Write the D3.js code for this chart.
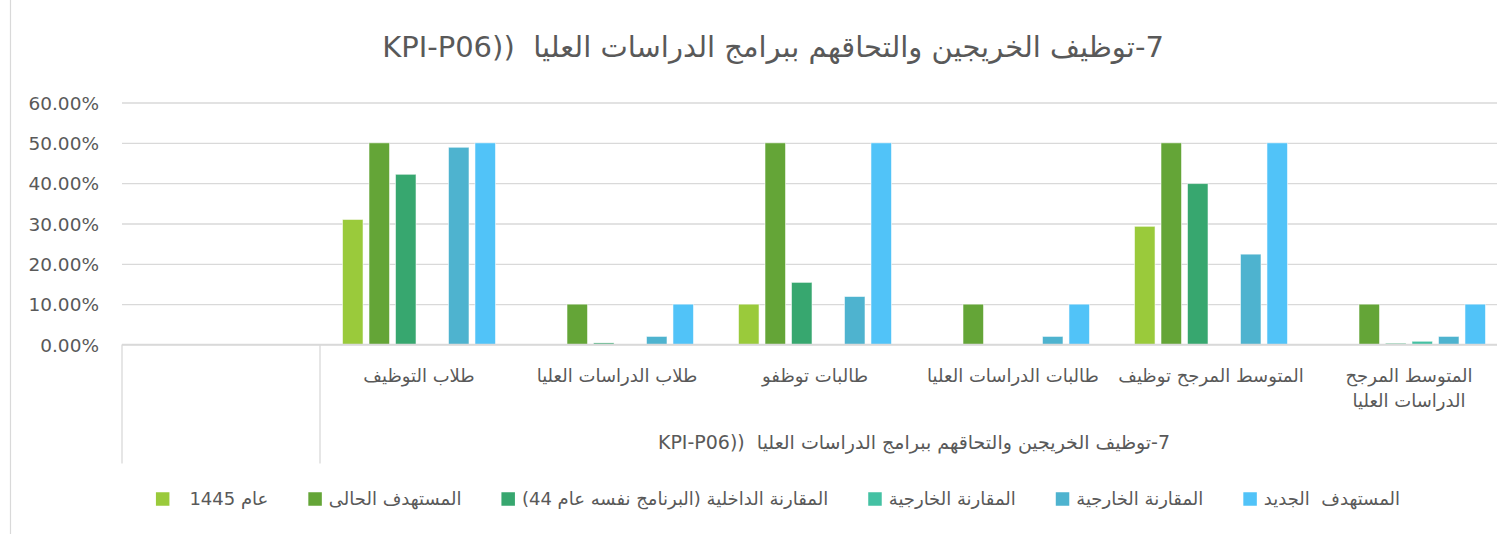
<!DOCTYPE html>
<html>
<head>
<meta charset="utf-8">
<script src="https://cdn.jsdelivr.net/npm/d3@7"></script>
<style>
  body { margin: 0; background: #fff; }
  svg text { font-family: "DejaVu Sans", "Liberation Sans", sans-serif; fill: #595959; white-space: pre; }
</style>
</head>
<body>
<svg id="chart"></svg>
<script>
/*Chart data. null = no bar drawn*/
const chartTitle = "7-توظيف الخريجين والتحاقهم ببرامج الدراسات العليا  ((KPI-P06";
const groupLabel = "7-توظيف الخريجين والتحاقهم ببرامج الدراسات العليا  ((KPI-P06";

/*category labels, one entry per line of the label*/
const categories = [
    [""],
    ["طلاب التوظيف"],
    ["طلاب الدراسات العليا"],
    ["طالبات توظفو"],
    ["طالبات الدراسات العليا"],
    ["المتوسط المرجح توظيف"],
    ["المتوسط المرجح", "الدراسات العليا"]
];

const seriesNames = [
    "عام 1445",
    "المستهدف الحالى",
    "المقارنة الداخلية (البرنامج نفسه عام 44)",
    "المقارنة الخارجية",
    "المقارنة الخارجية",
    "المستهدف  الجديد"
];

const year1445       = [null, 0.310, null,  0.100, null,  0.293, null];
const currentTarget  = [null, 0.500, 0.100, 0.500, 0.100, 0.500, 0.100];
const internalComp   = [null, 0.422, 0.004, 0.154, null,  0.399, 0.003];
const externalComp1  = [null, null,  null,  null,  null,  null,  0.008];
const externalComp2  = [null, 0.489, 0.020, 0.119, 0.020, 0.224, 0.020];
const newTarget      = [null, 0.500, 0.100, 0.500, 0.100, 0.500, 0.100];

const seriesValues = [year1445, currentTarget, internalComp, externalComp1, externalComp2, newTarget];

const yTicks = [0, 0.1, 0.2, 0.3, 0.4, 0.5, 0.6];

const colors = ["#9aca3b", "#64a537", "#37a76f", "#44c1a3", "#4eb3cf", "#51c3f8"];

/*Canvas and plot area*/
const width = 1497;
const height = 534;
const plotLeft = 122;
const plotTop = 102.5;
const plotBottom = 344.5;
const catWidth = 198;
const axisDepth = 119; /*how far the category tick lines go below the axis*/

const svg = d3.select("#chart")
    .attr("width", width)
    .attr("height", height);

/*chart border (only left side is inside the picture)*/
svg.append("line")
    .attr("x1", 10.5).attr("x2", 10.5)
    .attr("y1", 0).attr("y2", height)
    .style("stroke", "#d9d9d9")
    .style("stroke-width", 1.2);

/*scales*/
const x0 = d3.scaleBand()
    .domain(d3.range(categories.length))
    .range([plotLeft, plotLeft + catWidth * categories.length])
    .padding(0);

const x1 = d3.scaleBand()
    .domain(d3.range(seriesNames.length))
    .range([0, catWidth])
    .paddingInner(0.226)
    .paddingOuter(0.85);

const y = d3.scaleLinear()
    .domain([0, 0.6])
    .range([plotBottom, plotTop]);

const plotRight = x0.range()[1];

/*gridlines + y labels using axisLeft*/
const yAxis = d3.axisLeft(y)
    .tickValues(yTicks)
    .tickFormat(d3.format(".2%"))
    .tickSize(-(plotRight - plotLeft))
    .tickPadding(23);

const yAxisG = svg.append("g")
    .attr("transform", "translate(" + plotLeft + ",0)")
    .call(yAxis);

yAxisG.select(".domain").remove();
yAxisG.selectAll(".tick line")
    .style("stroke", "#d9d9d9")
    .style("stroke-width", 1.3);
yAxisG.selectAll(".tick text")
    .style("font-size", "18.5px")
    .style("fill", "#595959")
    .attr("dy", "0.36em");

/*bars*/
const barData = [];
seriesValues.forEach((vals, s) => {
    vals.forEach((v, c) => {
        if (v !== null) barData.push({c: c, s: s, v: v});
    });
});

svg.append("g").selectAll("rect")
    .data(barData)
    .enter()
    .append("rect")
    .attr("x", d => x0(d.c) + x1(d.s))
    .attr("y", d => y(d.v))
    .attr("width", x1.bandwidth())
    .attr("height", d => y(0) - y(d.v))
    .style("fill", d => colors[d.s])
    .style("stroke", "rgba(255,255,255,0.55)")
    .style("stroke-width", 1);

/*category axis line and the two outer tick lines*/
svg.append("line")
    .attr("x1", plotLeft).attr("x2", plotRight)
    .attr("y1", plotBottom).attr("y2", plotBottom)
    .style("stroke", "#d9d9d9")
    .style("stroke-width", 1.3);

[0, 1].forEach(i => {
    svg.append("line")
        .attr("x1", x0(i)).attr("x2", x0(i))
        .attr("y1", plotBottom).attr("y2", plotBottom + axisDepth)
        .style("stroke", "#d9d9d9")
        .style("stroke-width", 1.3);
});

/*category labels*/
const catLabels = svg.append("g").selectAll("text")
    .data(categories)
    .enter()
    .append("text")
    .attr("direction", "rtl")
    .attr("text-anchor", "middle")
    .style("font-size", "18px")
    .attr("transform", (d, i) => "translate(" + (x0(i) + catWidth / 2) + "," + (plotBottom + 37) + ")");

catLabels.selectAll("tspan")
    .data(d => d)
    .enter()
    .append("tspan")
    .attr("x", 0)
    .attr("y", (d, i) => i * 25)
    .text(d => d);

/*outer level label spans categories 1..6*/
svg.append("text")
    .attr("direction", "rtl")
    .attr("text-anchor", "middle")
    .attr("x", (x0(1) + plotRight) / 2)
    .attr("y", plotBottom + 104)
    .style("font-size", "19px")
    .text(groupLabel);

/*title*/
svg.append("text")
    .attr("direction", "rtl")
    .attr("text-anchor", "middle")
    .attr("x", 773)
    .attr("y", 57)
    .style("font-size", "29px")
    .text(chartTitle);

/*legend: square then label, laid out from measured text widths and centered*/
const legendY = 499;
const sq = 13.5;
const legend = svg.append("g").attr("id", "legend");

const legendItems = legend.selectAll("g")
    .data(seriesNames)
    .enter()
    .append("g");

legendItems.append("rect")
    .attr("width", sq)
    .attr("height", sq)
    .attr("y", legendY - sq / 2)
    .style("fill", (d, i) => colors[i]);

legendItems.append("text")
    .attr("direction", "rtl")
    .attr("text-anchor", "middle")
    .attr("y", legendY)
    .attr("dy", "0.36em")
    .style("font-size", "18px")
    .text(d => d);

let cursor = 0;
const itemGap = 40;
const textGap = 7;
legendItems.each(function(d, i) {
    const g = d3.select(this);
    const w = g.select("text").node().getComputedTextLength();
    const gap = i === 0 ? 20 : textGap;
    g.select("rect").attr("x", cursor);
    g.select("text").attr("x", cursor + sq + gap + w / 2);
    cursor += sq + gap + w + itemGap;
});
const legendWidth = cursor - itemGap;
legend.attr("transform", "translate(" + (778 - legendWidth / 2) + ",0)");
</script>
</body>
</html>
